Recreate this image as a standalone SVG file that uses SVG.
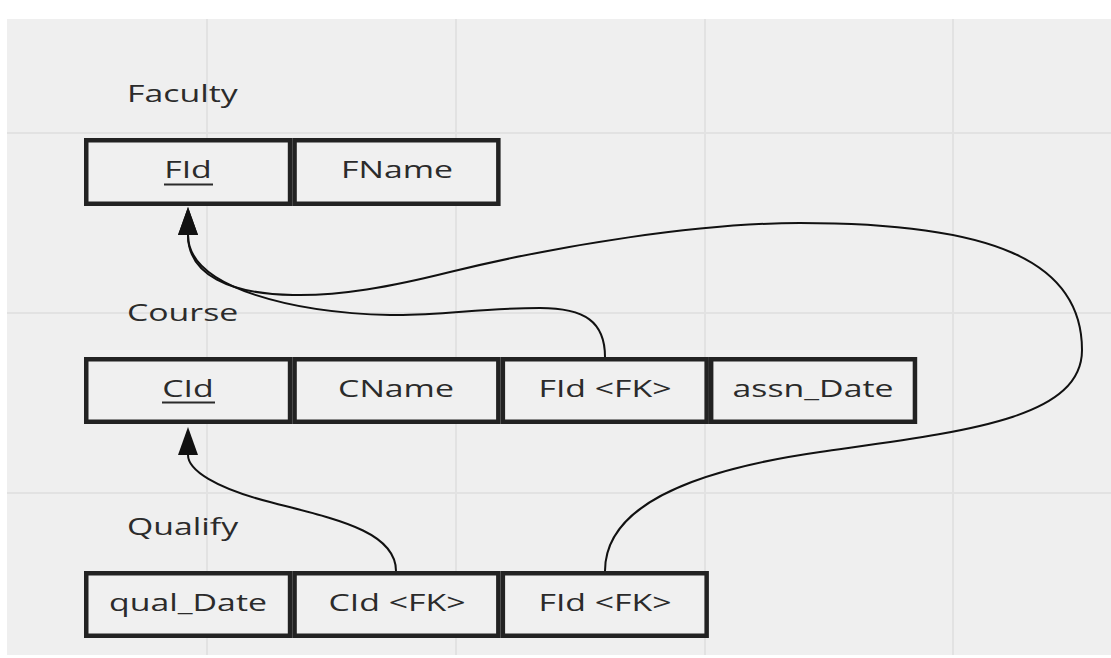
<svg xmlns="http://www.w3.org/2000/svg" width="1111" height="658" viewBox="0 0 1111 658">
  <style>
    .bg { fill: #efefef; }
    .grid { stroke: #e2e2e2; stroke-width: 2; }
    .cell { fill: #f0f0f0; stroke: #222222; stroke-width: 4.5; }
    .t { font-family: "Open Sans", "Noto Sans", sans-serif; font-size: 24.5px; fill: #2b2b2b; }
    .c { text-anchor: middle; }
    .ul { stroke: #2b2b2b; stroke-width: 2; }
    .conn { fill: none; stroke: #111111; stroke-width: 2; }
  </style>
  <defs>
    <marker id="arrow" viewBox="0 0 28 20" markerWidth="28" markerHeight="20" markerUnits="userSpaceOnUse" refX="0" refY="10" orient="auto">
      <path d="M0,0 L28,10 L0,20 Z" fill="#111111"/>
    </marker>
  </defs>

  <rect x="0" y="0" width="1111" height="658" fill="#ffffff"/>
  <rect class="bg" x="7" y="19" width="1104" height="636"/>
  <g id="grid">
    <line class="grid" x1="207" y1="19" x2="207" y2="655"/>
    <line class="grid" x1="456" y1="19" x2="456" y2="655"/>
    <line class="grid" x1="705" y1="19" x2="705" y2="655"/>
    <line class="grid" x1="953" y1="19" x2="953" y2="655"/>
    <line class="grid" x1="7" y1="133" x2="1111" y2="133"/>
    <line class="grid" x1="7" y1="313" x2="1111" y2="313"/>
    <line class="grid" x1="7" y1="493" x2="1111" y2="493"/>
  </g>

  <g id="faculty">
    <text class="t" transform="translate(127,101.5) scale(1.38,1)">Faculty</text>
    <rect class="cell" x="86.25" y="140.25" width="203.8" height="63.5"/>
    <rect class="cell" x="294.55" y="140.25" width="203.8" height="63.5"/>
    <text class="t c" transform="translate(188,178) scale(1.38,1)">FId</text>
    <line class="ul" x1="164" y1="184.5" x2="213" y2="184.5"/>
    <text class="t c" transform="translate(397,178) scale(1.38,1)">FName</text>
  </g>

  <g id="course">
    <text class="t" transform="translate(127,321) scale(1.38,1)">Course</text>
    <rect class="cell" x="86.25" y="359.25" width="203.8" height="62.5"/>
    <rect class="cell" x="294.55" y="359.25" width="203.8" height="62.5"/>
    <rect class="cell" x="502.85" y="359.25" width="203.8" height="62.5"/>
    <rect class="cell" x="711.15" y="359.25" width="203.8" height="62.5"/>
    <text class="t c" transform="translate(188,397) scale(1.38,1)">CId</text>
    <line class="ul" x1="162" y1="402.5" x2="215" y2="402.5"/>
    <text class="t c" transform="translate(396,397) scale(1.38,1)">CName</text>
    <text class="t c" transform="translate(605,397) scale(1.38,1)">FId &lt;FK&gt;</text>
    <text class="t c" transform="translate(813,397) scale(1.38,1)">assn_Date</text>
  </g>

  <g id="qualify">
    <text class="t" transform="translate(127,535) scale(1.38,1)">Qualify</text>
    <rect class="cell" x="86.25" y="573.25" width="203.8" height="62.5"/>
    <rect class="cell" x="294.55" y="573.25" width="203.8" height="62.5"/>
    <rect class="cell" x="502.85" y="573.25" width="203.8" height="62.5"/>
    <text class="t c" transform="translate(188,611) scale(1.38,1)">qual_Date</text>
    <text class="t c" transform="translate(397,611) scale(1.38,1)">CId &lt;FK&gt;</text>
    <text class="t c" transform="translate(605,611) scale(1.38,1)">FId &lt;FK&gt;</text>
  </g>

  <g id="connectors">
    <path class="conn" marker-end="url(#arrow)" d="M605,357 C605,322 585,308 540,308 C480,308 440,316 390,315 C300,313 188,290 188,235"/>
    <path class="conn" marker-end="url(#arrow)" d="M605,571 C605,510 680,472 820,452 C960,432 1082,420 1082,350 C1082,260 990,223 800,223 C700,223 560,245 450,272 C390,287 340,296 293,295 C230,294 188,275 188,235"/>
    <path class="conn" marker-end="url(#arrow)" d="M396,571 C396,530 330,518 270,502 C215,488 188,470 188,455"/>
  </g>
</svg>
